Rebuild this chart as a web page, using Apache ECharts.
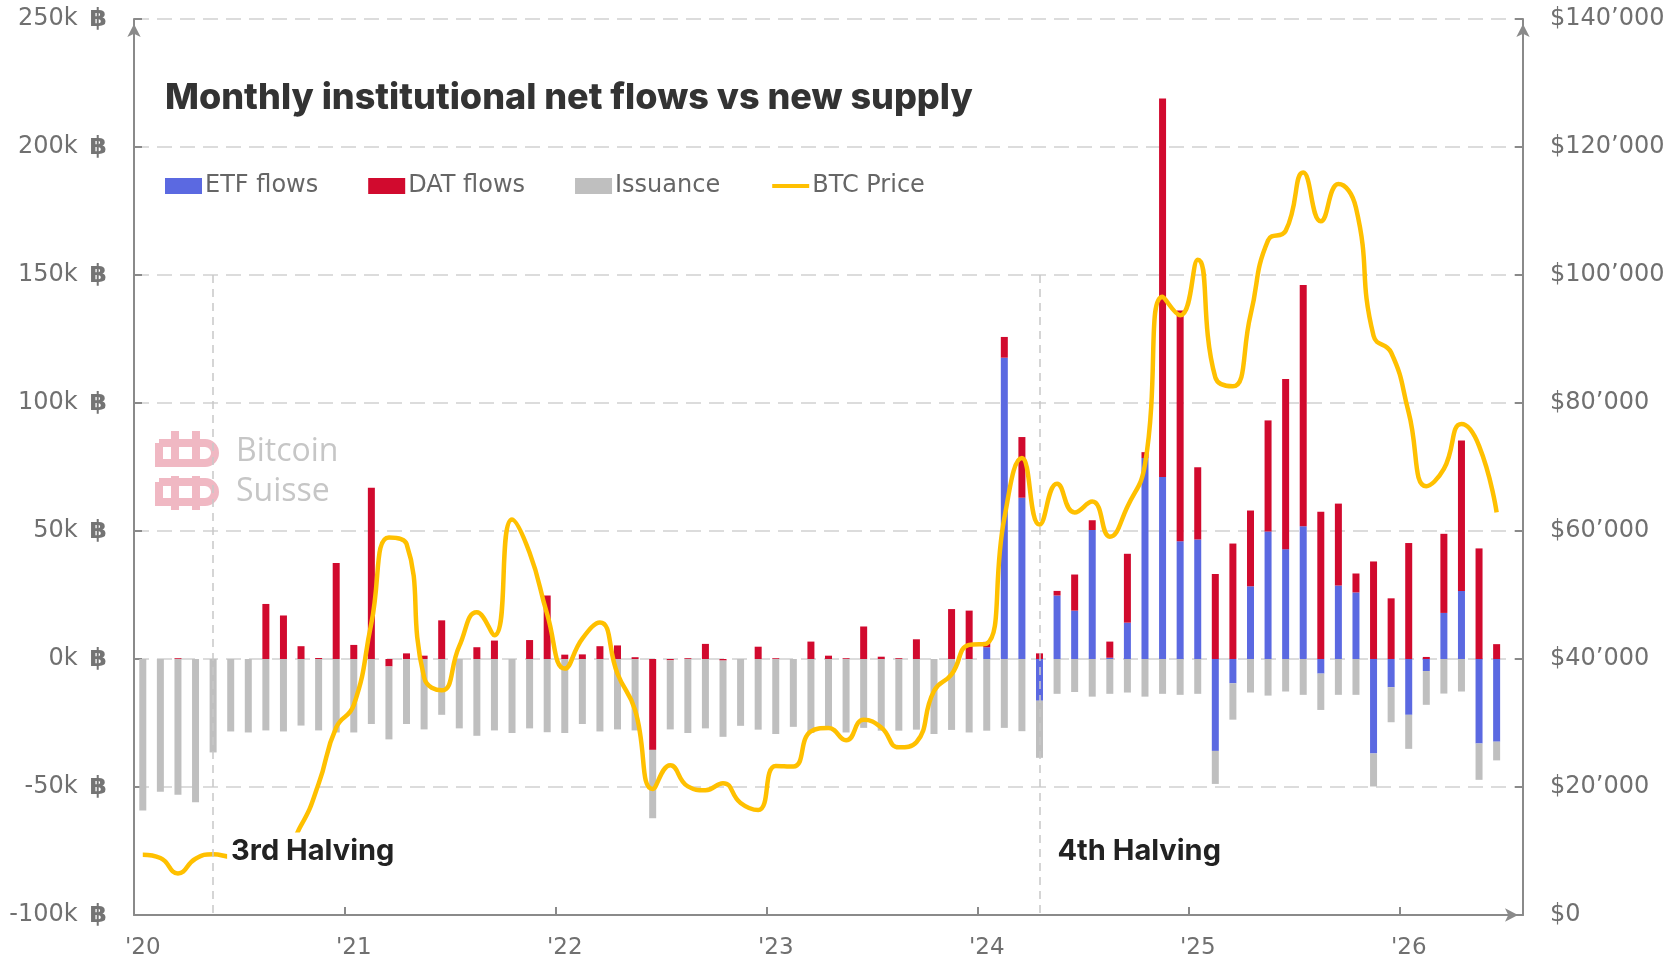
<!DOCTYPE html>
<html>
<head>
<meta charset="utf-8">
<title>Monthly institutional net flows vs new supply</title>
<script src="https://cdn.jsdelivr.net/npm/echarts@6.0.0/dist/echarts.min.js"></script>
<style>
  html, body { margin: 0; padding: 0; background: #fff; }
  #chart { width: 1670px; height: 966px; }
</style>
</head>
<body>
<div id="chart"></div>
<script>
  // months Jan 2020 .. Jul 2026 (last slot is empty)
  var months = [];
  for (var y = 2020; y <= 2026; y++) {
    for (var m = 1; m <= 12; m++) {
      if (y === 2026 && m > 7) break;
      months.push(y + '-' + (m < 10 ? '0' + m : m));
    }
  }

  // flows in thousands of BTC
  var etfFlows = [
    0, 0, 0, 0, 0, 0, 0, 0, 0, 0, 0, 0,
    0, 0, 0, 0, 0, 0, 0, 0, 0, 0, 0, 0,
    0, 0, 0, 0, 0, 0, 0, 0, 0, 0, 0, 0,
    0, 0, 0, 0, 0, 0, 0, 0, 0, 0, 0, 0,
    4.6, 117.7, 63, -16.3, 24.8, 18.9, 50.4, 0.5, 14.2, 78.5, 71.1, 46,
    46.7, -35.9, -9.5, 28.4, 49.8, 42.9, 51.9, -5.7, 28.7, 26, -36.9, -11,
    -21.8, -4.7, 18, 26.6, -33, -32.3, null
  ];
  var datFlows = [
    0, 0, 0.3, 0, 0, 0, 0, 21.5, 17, 5, 0.4, 37.5,
    5.5, 66.9, -2.9, 2.2, 1.3, 15.1, 0, 4.6, 7.2, 0, 7.4, 24.8,
    1.7, 1.8, 5, 5.3, 0.7, -35.5, -0.5, 0.3, 5.9, -0.6, 0, 4.8,
    0.3, 0, 6.8, 1.3, 0.3, 12.7, 0.9, 0.3, 7.7, 0, 19.5, 18.9,
    2.1, 8.1, 23.7, 2.2, 1.8, 14.1, 3.8, 6.3, 26.9, 2.3, 147.8, 90.1,
    28.2, 33.2, 45.1, 29.6, 43.4, 66.5, 94.2, 57.5, 32, 7.4, 38.1, 23.7,
    45.3, 0.8, 30.9, 58.8, 43.2, 5.8, null
  ];
  var issuance = [
    -59.2, -51.9, -53, -56, -36.5, -28.3, -28.7, -27.9, -28.3, -26, -27.9, -28.7,
    -28.7, -25.4, -28.5, -25.4, -27.5, -21.8, -27.1, -30, -27.9, -28.9, -27.1, -28.6,
    -28.9, -25.4, -28.3, -27.5, -27.9, -26.7, -27, -28.9, -27.1, -29.8, -26.1, -27.6,
    -29.3, -26.5, -28.9, -27.6, -28.7, -26.9, -28, -28, -27.6, -29.3, -27.7, -28.7,
    -28, -26.9, -28.2, -22.3, -13.6, -12.9, -14.7, -13.6, -13.1, -14.7, -13.6, -14,
    -13.6, -12.9, -14.2, -13.1, -14.3, -12.7, -14, -14.2, -14, -14, -12.9, -13.7,
    -13.3, -13.2, -13.5, -12.7, -14.2, -7.3, null
  ];
  // month-end BTC price, USD
  var btcPrice = [
    9400, 8900, 6500, 8800, 9500, 9100, 11300, 11700, 10800, 14000, 20500, 29300,
    32800, 45600, 59000, 58000, 37100, 35100, 42000, 47300, 43700, 61800, 56600, 47000,
    38500, 43200, 45700, 37700, 32000, 19700, 23400, 20100, 19500, 20600, 17500, 16400,
    23300, 23200, 28700, 29200, 27300, 30500, 29300, 26200, 27000, 35000, 37600, 42200,
    42400, 62000, 71400, 61000, 67400, 62900, 64600, 59100, 63800, 70400, 96600, 93700,
    102400, 84000, 82600, 93700, 105400, 106900, 116000, 108400, 114200, 110500, 90500, 87900,
    78500, 67000, 69700, 76700, 73300, 62900, null
  ];
  var halvings = [
    { month: '2020-05', name: '3rd Halving' },
    { month: '2024-04', name: '4th Halving' }
  ];

  var AXIS_FONT = '"DejaVu Sans ExtraLight", "DejaVu Sans", sans-serif';
  var BOLD_FONT = 'Inter, Roboto, sans-serif';
  var AXIS_COLOR = '#8a8a8a';
  var LABEL_COLOR = '#707070';

  var myChart = echarts.init(document.getElementById('chart'));

  var isYearStart = function (index) { return index % 12 === 0; };
  var arrowLine = {
    show: true,
    onZero: false,
    lineStyle: { color: AXIS_COLOR, width: 2 },
    symbol: ['none', 'arrow'],
    symbolSize: [10, 13],
    symbolOffset: [0, -5]
  };
  var innerTick = { show: true, inside: true, length: 8, lineStyle: { color: AXIS_COLOR, width: 2 } };

  myChart.setOption({
    backgroundColor: '#fff',
    animation: false,
    textStyle: { fontFamily: AXIS_FONT },
    title: {
      text: 'Monthly institutional net flows vs new supply',
      left: 165,
      top: 80,
      padding: 0,
      textStyle: { fontFamily: BOLD_FONT, fontSize: 36, fontWeight: 800, color: '#333' }
    },
    legend: {
      left: 165,
      top: 174,
      padding: 0,
      itemWidth: 37,
      itemHeight: 16,
      itemGap: 50,
      textStyle: { fontFamily: AXIS_FONT, fontSize: 24, color: '#666', padding: [0, 0, 0, -2] },
      data: [
        { name: 'ETF flows', icon: 'rect' },
        { name: 'DAT flows', icon: 'rect' },
        { name: 'Issuance', icon: 'rect' },
        { name: 'BTC Price', itemStyle: { opacity: 0 }, lineStyle: { width: 4, color: '#FFC000' } }
      ]
    },
    grid: { left: 134, right: 147, top: 19, bottom: 51, containLabel: false },
    xAxis: {
      type: 'category',
      data: months,
      boundaryGap: true,
      axisLine: {
        show: true,
        onZero: false,
        lineStyle: { color: AXIS_COLOR, width: 2 },
        symbol: ['none', 'arrow'],
        symbolSize: [10, 13],
        symbolOffset: [0, -5]
      },
      axisTick: { show: true, inside: true, length: 8, interval: isYearStart, lineStyle: { color: AXIS_COLOR, width: 2 } },
      axisLabel: {
        interval: isYearStart,
        margin: 22,
        fontSize: 23,
        color: LABEL_COLOR,
        formatter: function (v) { return "'" + v.slice(2, 4); }
      },
      splitLine: { show: false }
    },
    yAxis: [
      {
        type: 'value',
        min: -100,
        max: 250,
        interval: 50,
        axisLine: arrowLine,
        axisTick: innerTick,
        axisLabel: {
          margin: 27,
          color: LABEL_COLOR,
          formatter: function (v) { return '{n|' + v + 'k}{b|฿}'; },
          rich: {
            n: { fontSize: 24, color: LABEL_COLOR, fontFamily: AXIS_FONT },
            b: { fontSize: 25, fontWeight: 'bold', color: '#747474', fontFamily: '"DejaVu Sans", sans-serif', padding: [0, 0, 0, 12] }
          }
        },
        splitLine: { show: true, lineStyle: { color: '#dcdcdc', width: 2, type: [15, 8] } }
      },
      {
        type: 'value',
        min: 0,
        max: 140000,
        interval: 20000,
        position: 'right',
        axisLine: arrowLine,
        axisTick: innerTick,
        axisLabel: {
          margin: 27,
          fontSize: 24,
          color: LABEL_COLOR,
          formatter: function (v) { return v === 0 ? '$0' : '$' + (v / 1000) + '\u2019000'; }
        },
        splitLine: { show: false }
      }
    ],
    series: [
      {
        name: 'ETF flows',
        type: 'bar',
        stack: 'flows',
        barWidth: 7,
        itemStyle: { color: '#5B69E1' },
        data: etfFlows
      },
      {
        name: 'DAT flows',
        type: 'bar',
        stack: 'flows',
        barWidth: 7,
        itemStyle: { color: '#D10A2E' },
        data: datFlows
      },
      {
        name: 'Issuance',
        type: 'bar',
        stack: 'flows',
        barWidth: 7,
        itemStyle: { color: '#BFBFBF' },
        data: issuance,
        markLine: {
          silent: true,
          symbol: 'none',
          label: { show: false },
          lineStyle: { color: '#c8c8c8', width: 1.5, type: [8, 6] },
          data: halvings.map(function (h) {
            return [{ coord: [h.month, 150] }, { coord: [h.month, -100] }];
          })
        }
      },
      {
        name: 'BTC Price',
        type: 'line',
        yAxisIndex: 1,
        smooth: true,
        symbol: 'none',
        z: 3,
        lineStyle: { color: '#FFC000', width: 4.5 },
        itemStyle: { color: '#FFC000' },
        data: btcPrice
      },
      {
        name: 'halving labels',
        type: 'scatter',
        z: 10,
        silent: true,
        data: [],
        markPoint: {
          symbol: 'rect',
          symbolSize: 0,
          label: {
            show: true,
            position: 'right',
            distance: 14,
            backgroundColor: '#fff',
            padding: [4, 4, 4, 4],
            fontFamily: BOLD_FONT,
            fontSize: 29,
            fontWeight: 'bold',
            color: '#222',
            formatter: '{b}'
          },
          data: halvings.map(function (h) {
            return { name: h.name, coord: [h.month, -75] };
          })
        }
      }
    ],
    graphic: [
      // Bitcoin Suisse watermark
      {
        type: 'group',
        silent: true,
        children: [
          { type: 'rect', shape: { x: 159, y: 443, width: 56, height: 20, r: [0, 10, 10, 0] }, style: { fill: 'none', stroke: '#F0B8C3', lineWidth: 8 } },
          { type: 'rect', shape: { x: 171, y: 431, width: 8, height: 36 }, style: { fill: '#F0B8C3' } },
          { type: 'rect', shape: { x: 192, y: 431, width: 8, height: 36 }, style: { fill: '#F0B8C3' } },
          { type: 'rect', shape: { x: 159, y: 482, width: 56, height: 20, r: [0, 10, 10, 0] }, style: { fill: 'none', stroke: '#F0B8C3', lineWidth: 8 } },
          { type: 'rect', shape: { x: 171, y: 476, width: 8, height: 34 }, style: { fill: '#F0B8C3' } },
          { type: 'rect', shape: { x: 192, y: 476, width: 8, height: 34 }, style: { fill: '#F0B8C3' } },
          { type: 'text', x: 236, y: 436, style: { text: 'Bitcoin', fontSize: 32, fontFamily: '"Open Sans", sans-serif', fill: '#c6c6c6' } },
          { type: 'text', x: 236, y: 476, style: { text: 'Suisse', fontSize: 32, fontFamily: '"Open Sans", sans-serif', fill: '#c6c6c6' } }
        ]
      }
    ]
  });
</script>
</body>
</html>
